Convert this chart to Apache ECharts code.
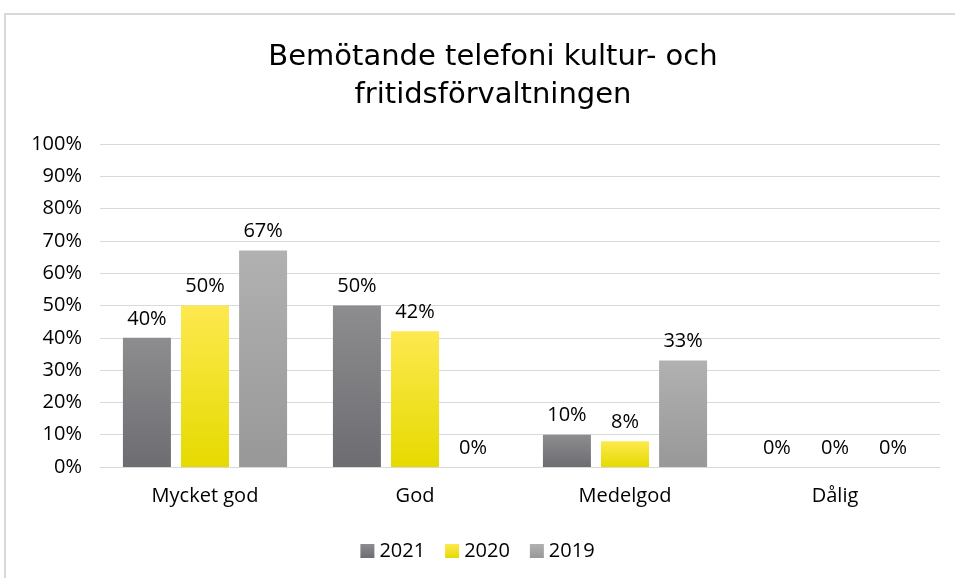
<!DOCTYPE html>
<html>
<head>
<meta charset="utf-8">
<script src="https://cdn.jsdelivr.net/npm/echarts@6/dist/echarts.min.js"></script>
<style>
  html, body { margin: 0; padding: 0; background: #fff; }
  #chart { width: 955px; height: 578px; }
</style>
</head>
<body>
<div id="chart"></div>
<script>
const categories = ['Mycket god', 'God', 'Medelgod', 'Dålig'];
const years = ['2021', '2020', '2019'];
const values2021 = [40, 50, 10, 0];
const values2020 = [50, 42, 8, 0];
const values2019 = [67, 0, 33, 0];

const grad = (top, bottom) => new echarts.graphic.LinearGradient(0, 0, 0, 1, [
  { offset: 0, color: top },
  { offset: 1, color: bottom }
]);

const colors = [
  grad('#8d8d8f', '#6d6c71'),
  grad('#fde94f', '#e6da00'),
  grad('#b1b1b1', '#989898')
];

const labelFont = { fontFamily: '"Open Sans", Lato, sans-serif', fontSize: 20, color: '#000' };

const chart = echarts.init(document.getElementById('chart'));

chart.setOption({
  animation: false,
  graphic: [{
    type: 'rect',
    shape: { x: 5, y: 14, width: 960, height: 580 },
    style: { fill: 'none', stroke: '#d9d9d9', lineWidth: 2 }
  }],
  title: {
    text: 'Bemötande telefoni kultur- och\nfritidsförvaltningen',
    left: 488,
    textAlign: 'center',
    top: 33,
    textStyle: {
      fontFamily: '"DejaVu Sans", sans-serif',
      fontWeight: 'normal',
      fontSize: 29,
      lineHeight: 38,
      color: '#000'
    }
  },
  legend: {
    bottom: 12,
    left: 'center',
    itemWidth: 14,
    itemHeight: 14,
    itemGap: 20,
    icon: 'rect',
    textStyle: labelFont,
    data: years
  },
  grid: { left: 100, right: 15, top: 144, bottom: 111 },
  xAxis: {
    type: 'category',
    data: categories,
    axisTick: { show: false },
    axisLine: { lineStyle: { color: '#d9d9d9', width: 1 } },
    axisLabel: { ...labelFont, margin: 19 }
  },
  yAxis: {
    type: 'value',
    min: 0,
    max: 100,
    interval: 10,
    axisLabel: { ...labelFont, formatter: '{value}%', margin: 18, align: 'right' },
    splitLine: { lineStyle: { color: '#d9d9d9', width: 1 } }
  },
  series: [values2021, values2020, values2019].map((vals, i) => ({
    name: years[i],
    type: 'bar',
    data: vals,
    barWidth: 48,
    barGap: '21%',
    itemStyle: { color: colors[i] },
    label: {
      show: true,
      position: 'top',
      distance: 9,
      formatter: '{c}%',
      ...labelFont
    }
  }))
});
</script>
</body>
</html>
